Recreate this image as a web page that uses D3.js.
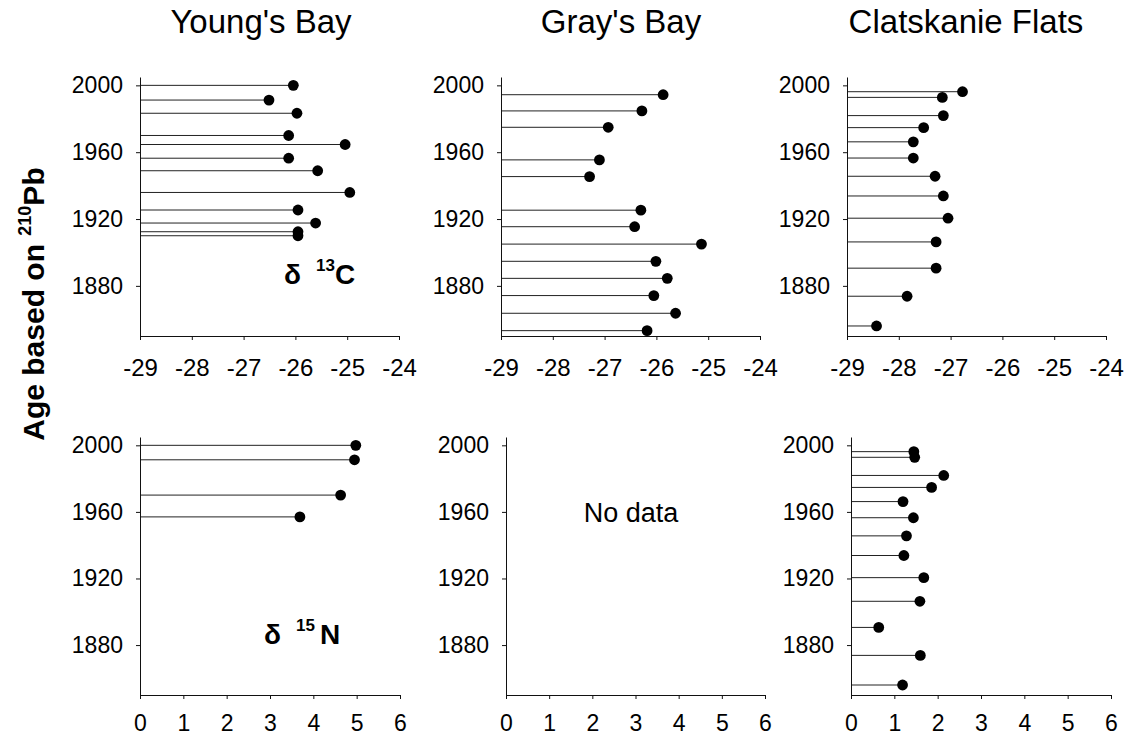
<!DOCTYPE html>
<html>
<head>
<meta charset="utf-8">
<script src="https://cdn.jsdelivr.net/npm/d3@7"></script>
<style>
  html, body { margin: 0; padding: 0; background: #fff; }
  svg { display: block; font-family: Arial, "Liberation Sans", sans-serif; }
</style>
</head>
<body>
<svg id="chart" width="1125" height="738"></svg>
<script>
// ---------- data ----------
const siteNames = ["Young's Bay", "Gray's Bay", "Clatskanie Flats"];
const yearTicks = [1880, 1920, 1960, 2000];
const carbonTicks = [-29, -28, -27, -26, -25, -24];
const nitrogenTicks = [0, 1, 2, 3, 4, 5, 6];

const youngYears = [2000, 1991.2, 1983.3, 1970.0, 1964.6, 1956.4, 1948.9, 1935.9, 1925.4, 1917.6, 1912.4, 1910.0];
const youngC = [-26.04, -26.51, -25.97, -26.13, -25.04, -26.13, -25.57, -24.95, -25.95, -25.61, -25.95, -25.95];

const grayYears = [1994.4, 1984.7, 1974.9, 1955.4, 1945.4, 1925.3, 1915.4, 1905.0, 1894.7, 1884.5, 1874.2, 1863.6, 1853.2];
const grayC = [-25.87, -26.28, -26.93, -27.10, -27.29, -26.30, -26.42, -25.13, -26.01, -25.79, -26.05, -25.63, -26.18];

const clatYears = [1996.2, 1992.8, 1981.9, 1974.7, 1966.2, 1956.5, 1945.6, 1933.8, 1920.5, 1906.3, 1890.6, 1873.8, 1856.0];
const clatC = [-26.77, -27.16, -27.14, -27.52, -27.72, -27.72, -27.30, -27.14, -27.05, -27.28, -27.28, -27.84, -28.43];

const youngYearsN = [2000, 1991.3, 1970.1, 1957.0];
const youngN = [4.98, 4.95, 4.63, 3.69];

const clatN = [1.45, 1.47, 2.14, 1.86, 1.20, 1.44, 1.28, 1.22, 1.68, 1.59, 0.64, 1.60, 1.19];

// ---------- layout ----------
const svg = d3.select("#chart");
const FONT = 'Arial, "Liberation Sans", sans-serif';

const rows = [
  { yTop: 77, yBot: 336, xDomain: [-29, -24], ticks: carbonTicks, pad: 19, fs: 24 },
  { yTop: 437, yBot: 695, xDomain: [0, 6], ticks: nitrogenTicks, pad: 16, fs: 23 }
];

const panels = [
  { row: 0, x0: 140, x1: 399, years: youngYears, values: youngC },
  { row: 0, x0: 501, x1: 760, years: grayYears, values: grayC },
  { row: 0, x0: 847, x1: 1106, years: clatYears, values: clatC },
  { row: 1, x0: 140, x1: 400, years: youngYearsN, values: youngN },
  { row: 1, x0: 506, x1: 765, years: [], values: [], noData: true },
  { row: 1, x0: 851, x1: 1111, years: clatYears, values: clatN }
];

panels.forEach(p => {
  const r = rows[p.row];
  const x = d3.scaleLinear().domain(r.xDomain).range([p.x0, p.x1]);
  const y = d3.scaleLinear().domain([1850, 2005]).range([r.yBot, r.yTop]);
  const g = svg.append("g");

  // stems
  const pts = p.years.map((yr, i) => ({ yr, v: p.values[i] }));
  g.selectAll("line.stem").data(pts).join("line")
    .attr("class", "stem")
    .attr("x1", x(r.xDomain[0])).attr("x2", d => x(d.v))
    .attr("y1", d => y(d.yr)).attr("y2", d => y(d.yr))
    .attr("stroke", "#222").attr("stroke-width", 1);

  // axes
  const xAxis = d3.axisBottom(x).tickValues(r.ticks).tickSizeInner(4).tickSizeOuter(0).tickPadding(r.pad)
    .tickFormat(d3.format("d"));
  const gx = g.append("g").attr("transform", `translate(0,${r.yBot})`).call(xAxis);
  const yAxis = d3.axisLeft(y).tickValues(yearTicks).tickSizeInner(4).tickSizeOuter(0).tickPadding(13)
    .tickFormat(d3.format("d"));
  const gy = g.append("g").attr("transform", `translate(${p.x0},0)`).call(yAxis);
  [gx, gy].forEach(a => {
    a.selectAll("path.domain").attr("stroke", "#111");
    a.selectAll(".tick line").attr("stroke", "#111");
    a.selectAll(".tick text").attr("fill", "#000").style("font-family", FONT);
  });
  gx.selectAll(".tick text").style("font-size", r.fs + "px").text(d => d < 0 ? "-" + Math.abs(d) : d);
  gy.selectAll(".tick text").style("font-size", "23px");

  // dots
  g.selectAll("circle.dot").data(pts).join("circle")
    .attr("class", "dot")
    .attr("cx", d => x(d.v)).attr("cy", d => y(d.yr)).attr("r", 5.4)
    .attr("fill", "#000");

  if (p.noData) {
    g.append("text").attr("x", 631).attr("y", 522).attr("text-anchor", "middle")
      .style("font-size", "27px").style("font-family", FONT).text("No data");
  }
});

// titles
const titleX = [261, 621, 966];
siteNames.forEach((n, i) => {
  svg.append("text").attr("x", titleX[i]).attr("y", 33).attr("text-anchor", "middle")
    .style("font-size", "33px").style("font-family", FONT).attr("fill", "#000").text(n);
});

// isotope labels
function isoLabel(xStart, baseline, mass, elem) {
  const t = svg.append("text").attr("x", xStart).attr("y", baseline)
    .style("font-family", FONT).style("font-weight", "bold").style("font-size", "28px");
  t.append("tspan").text("δ");
  t.append("tspan").attr("dx", 15).attr("dy", -13).style("font-size", "17px").text(mass);
  t.append("tspan").attr("dy", 13).attr("dx", elem === "N" ? 5 : 0).text(elem);
}
isoLabel(284, 284, "13", "C");
isoLabel(264, 644, "15", "N");

// y axis title
const yt = svg.append("text")
  .attr("transform", "translate(44,304) rotate(-90)")
  .attr("text-anchor", "middle")
  .style("font-family", FONT).style("font-weight", "bold").style("font-size", "30px");
yt.append("tspan").text("Age based on ");
yt.append("tspan").attr("dy", -13).style("font-size", "18px").text("210");
yt.append("tspan").attr("dy", 13).text("Pb");
</script>
</body>
</html>
